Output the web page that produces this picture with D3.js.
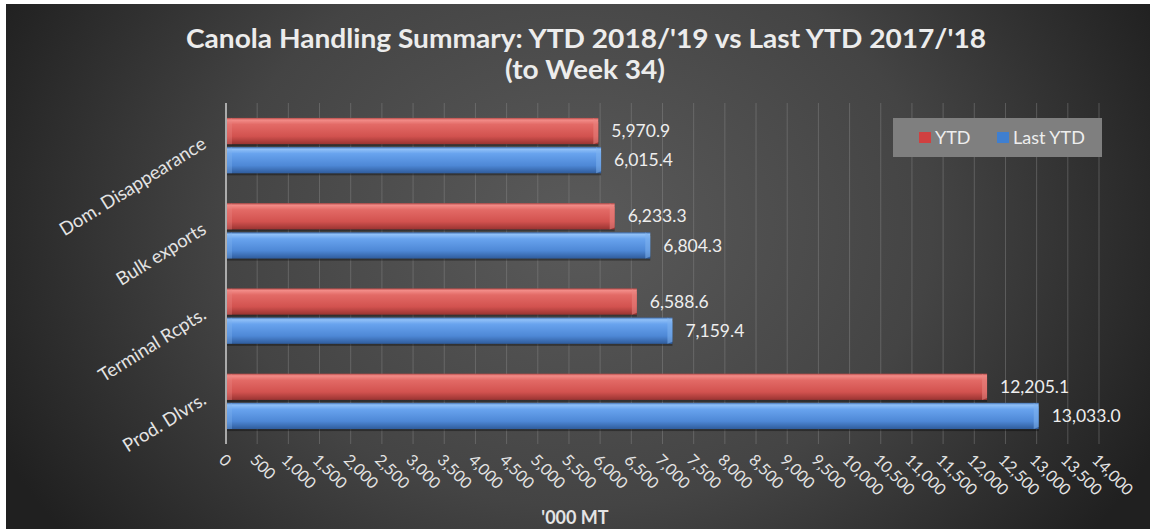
<!DOCTYPE html>
<html><head><meta charset="utf-8">
<script src="https://cdn.jsdelivr.net/npm/d3@7"></script>
<style>html,body{margin:0;padding:0;background:#fff;}svg{display:block;}</style>
</head><body>
<svg id="c" width="1150" height="529"></svg>
<script>
const categories = ["Dom. Disappearance", "Bulk exports", "Terminal Rcpts.", "Prod. Dlvrs."];
const seriesNames = ["YTD", "Last YTD"];
const ytd = [5970.9, 6233.3, 6588.6, 12205.1];
const lastYtd = [6015.4, 6804.3, 7159.4, 13033.0];
const xTicks = d3.range(0, 14001, 500);
const titleLines = ["Canola Handling Summary: YTD 2018/'19 vs Last YTD 2017/'18", "(to Week 34)"];
const xAxisTitle = "'000 MT";

const W = 1150, H = 529;
const FONT = "Lato, 'Open Sans', sans-serif";
const svg = d3.select("#c");
const defs = svg.append("defs");

const bg = defs.append("radialGradient").attr("id","bg").attr("cx","0.5").attr("cy","0.42").attr("r","0.75")
  .attr("gradientTransform","translate(0.5,0.42) scale(0.75,1.3) translate(-0.5,-0.42)");
bg.append("stop").attr("offset","0").attr("stop-color","#5a5a5a");
bg.append("stop").attr("offset","0.55").attr("stop-color","#444");
bg.append("stop").attr("offset","1").attr("stop-color","#202020");

function barGrad(id, c){
  const g = defs.append("linearGradient").attr("id",id).attr("x1",0).attr("y1",0).attr("x2",0).attr("y2",1);
  c.forEach(s=>g.append("stop").attr("offset",s[0]).attr("stop-color",s[1]));
}
barGrad("gYTD", [[0,"#b84a48"],[0.08,"#f28c88"],[0.25,"#e36a66"],[0.7,"#d2524f"],[1,"#9a3432"]]);
barGrad("gLast", [[0,"#4272b4"],[0.08,"#90c0f7"],[0.25,"#68a3ee"],[0.7,"#4e88d6"],[1,"#2f5c9c"]]);
const colors = {"YTD":"url(#gYTD)","Last YTD":"url(#gLast)"};
const capColors = {"YTD":"#e98582","Last YTD":"#7fb2ef"};
const swatch = {"YTD":"#d04040","Last YTD":"#3f7fd0"};

svg.append("rect").attr("x",6).attr("y",4).attr("width",W-6).attr("height",H-4).attr("fill","url(#bg)");

const x = d3.scaleLinear().domain([0,14000]).range([226,1099]);
const y = d3.scaleBand().domain(categories).range([103,444]).paddingInner(0.35).paddingOuter(0.175);
const ys = d3.scaleBand().domain(seriesNames).range([0,y.bandwidth()]).paddingInner(0.1);

// grid
svg.append("g").selectAll("line").data(xTicks.slice(1)).join("line")
  .attr("x1",d=>x(d)).attr("x2",d=>x(d)).attr("y1",103).attr("y2",444)
  .attr("stroke","#8a8a8a").attr("stroke-opacity",0.45).attr("stroke-width",1);
svg.append("line").attr("x1",x(0)).attr("x2",x(0)).attr("y1",103).attr("y2",444)
  .attr("stroke","#cfcfcf").attr("stroke-width",1.5);

const data = [];
categories.forEach((c,i)=>{
  data.push({cat:c, s:"YTD", v:ytd[i]});
  data.push({cat:c, s:"Last YTD", v:lastYtd[i]});
});

const bars = svg.append("g").selectAll("g").data(data).join("g");
bars.append("rect")
  .attr("x",x(0)+1).attr("y",d=>y(d.cat)+ys(d.s)+2)
  .attr("width",d=>x(d.v)-x(0)-1).attr("height",ys.bandwidth())
  .attr("fill","#000").attr("opacity",0.35);
bars.append("rect")
  .attr("x",x(0)+1).attr("y",d=>y(d.cat)+ys(d.s))
  .attr("width",d=>x(d.v)-x(0)-1).attr("height",ys.bandwidth())
  .attr("fill",d=>colors[d.s]);
bars.append("path")
  .attr("d",d=>{
    const xe=x(d.v), y0=y(d.cat)+ys(d.s), h=ys.bandwidth();
    return `M${xe-5},${y0} L${xe},${y0+4} L${xe},${y0+h-2} L${xe-5},${y0+h} Z`;
  })
  .attr("fill",d=>capColors[d.s]).attr("opacity",0.55);
bars.append("path")
  .attr("d",d=>{
    const xs=x(0)+1, y0=y(d.cat)+ys(d.s), h=ys.bandwidth();
    return `M${xs},${y0+3} L${xs+5},${y0} L${xs+5},${y0+h} L${xs},${y0+h} Z`;
  })
  .attr("fill",d=>capColors[d.s]).attr("opacity",0.35);

const fmt = d3.format(",.1f");
bars.append("text")
  .attr("x",d=>x(d.v)+13).attr("y",d=>y(d.cat)+ys(d.s)+ys.bandwidth()/2)
  .attr("dy","0.35em").attr("fill","#eeeeee")
  .attr("font-family",FONT).attr("font-size",17.5)
  .text(d=>fmt(d.v));

// x tick labels
svg.append("g").selectAll("text").data(xTicks).join("text")
  .attr("transform",d=>`translate(${x(d)-4},${457}) rotate(45)`)
  .attr("fill","#e4e4e4").attr("font-family",FONT).attr("font-size",16)
  .attr("text-anchor","start").attr("dy","0.35em")
  .text(d=>d3.format(",")(d));

// category labels
svg.append("g").selectAll("text").data(categories).join("text")
  .attr("transform",d=>`translate(${204},${y(d)+y.bandwidth()/2-4}) rotate(-32)`)
  .attr("fill","#e4e4e4").attr("font-family",FONT).attr("font-size",18.5)
  .attr("text-anchor","end").attr("dy","0.35em")
  .text(d=>d);

// title
const tt = svg.append("g").attr("font-family",FONT).attr("font-weight","bold")
  .attr("font-size",26).attr("fill","#ececec").attr("text-anchor","middle");
tt.append("text").attr("x",586).attr("y",48).attr("textLength",800).attr("lengthAdjust","spacingAndGlyphs").text(titleLines[0]);
tt.append("text").attr("x",585).attr("y",79).attr("textLength",160).attr("lengthAdjust","spacingAndGlyphs").text(titleLines[1]);

svg.append("text").attr("x",575).attr("y",524).attr("text-anchor","middle")
  .attr("font-family",FONT).attr("font-weight","bold").attr("font-size",18)
  .attr("fill","#e4e4e4").text(xAxisTitle);

// legend
const lg = svg.append("g");
lg.append("rect").attr("x",893).attr("y",118).attr("width",209).attr("height",39).attr("fill","#7f7f7f");
const lx = [919, 997];
seriesNames.forEach((s,i)=>{
  lg.append("rect").attr("x",lx[i]).attr("y",132).attr("width",12).attr("height",11).attr("fill",swatch[s]);
  lg.append("text").attr("x",lx[i]+16).attr("y",138).attr("dy","0.35em")
    .attr("font-family",FONT).attr("font-size",18).attr("fill","#eeeeee").text(s);
});
</script>
</body></html>
